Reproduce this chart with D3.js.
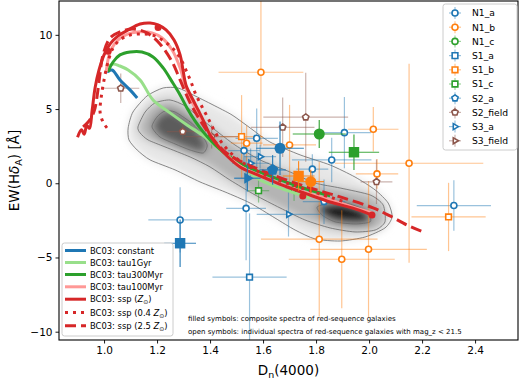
<!DOCTYPE html>
<html>
<head>
<meta charset="utf-8">
<script src="https://cdn.jsdelivr.net/npm/d3@7"></script>
<style>
  body { margin: 0; background: #fff; }
  svg { display: block; font-family: "DejaVu Sans", sans-serif; }
</style>
</head>
<body>
<svg id="chart" width="520" height="379"></svg>
<script>
// BC03 model tracks, [Dn(4000), EW(Hd_A)]
const bcConstant = [[1.011,7.5],[1.03,7.63],[1.06,6.96],[1.098,6.29],[1.125,5.75]];
const bcTau1Gyr = [[1.011,7.77],[1.034,8.04],[1.06,7.9],[1.091,7.63],[1.136,6.96],[1.185,5.61],[1.249,4.74],
  [1.313,3.93],[1.381,3.12],[1.438,2.24],[1.513,1.23],[1.589,0.22],[1.683,-0.45],[1.777,-0.99]];
const bcTau300Myr = [[1.015,7.5],[1.034,8.17],[1.06,8.65],[1.098,8.85],[1.143,8.85],[1.185,8.51],[1.223,7.77],
  [1.257,6.83],[1.287,5.95],[1.313,5.07],[1.343,4.2],[1.374,3.46],[1.419,2.58],[1.475,1.77],[1.551,1.03],
  [1.645,0.36],[1.74,-0.25],[1.853,-0.85]];
const bcTau100Myr = [[1.008,7.5],[1.023,8.85],[1.053,9.66],[1.091,10.06],[1.136,10.2],[1.181,10.13],[1.219,9.79],
  [1.257,8.98],[1.287,7.77],[1.309,6.42],[1.332,5.48],[1.362,4.4],[1.40,3.32],[1.445,2.24],[1.513,1.17],
  [1.589,0.49],[1.683,-0.18],[1.777,-0.72],[1.891,-1.33],[2.011,-2.0]];
const bcSsp = [[0.90,3.1],[0.915,3.6],[0.925,3.3],[0.935,3.9],[0.945,3.7],[0.955,4.9],[0.966,6.42],[0.981,7.63],
  [1.0,8.65],[1.023,9.39],[1.053,9.93],[1.091,10.33],[1.136,10.73],[1.174,10.8],[1.204,10.67],[1.234,10.33],
  [1.264,9.66],[1.287,8.65],[1.298,7.63],[1.309,6.62],[1.336,5.61],[1.355,4.94],[1.374,4.26],[1.40,3.25],
  [1.43,2.51],[1.468,1.77],[1.513,1.1],[1.57,0.63],[1.634,0.16],[1.702,-0.32],[1.777,-0.79],[1.853,-1.26],
  [1.936,-1.66],[2.011,-2.14]];
const bcSspLowZ = [[1.011,3.73],[0.996,4.13],[0.985,4.8],[0.989,5.75],[1.0,6.96],[1.015,8.17],[1.034,9.12],
  [1.06,9.66],[1.098,9.99],[1.143,10.06],[1.181,9.99],[1.219,9.66],[1.257,9.12],[1.287,8.44],[1.309,7.63],
  [1.328,6.83],[1.347,5.95],[1.37,5.14],[1.392,4.4],[1.415,3.59],[1.445,2.72],[1.494,1.77],[1.551,1.1],
  [1.626,0.42],[1.721,-0.18],[1.815,-0.72],[1.909,-1.26]];
const bcSspHighZ = [[0.921,3.8],[0.94,4.13],[0.955,4.53],[0.966,5.07],[0.977,6.29],[0.985,7.43],[0.996,8.65],
  [1.023,9.79],[1.06,10.2],[1.109,10.4],[1.162,10.13],[1.211,9.39],[1.257,8.17],[1.287,6.96],[1.325,5.41],
  [1.362,4.26],[1.408,3.05],[1.457,2.11],[1.513,1.5],[1.638,0.56],[1.766,-0.25],[1.891,-0.92],[2.015,-1.66],
  [2.079,-2.2],[2.143,-2.81],[2.204,-3.28]];
const sspAgeDots = [[1.015,8.9],[1.204,10.5],[1.75,-0.85],[2.011,-2.14]];

// SDSS density contours (outer, middle, two inner)
const densOuter = [[1.091,3.73],[1.109,4.8],[1.162,5.88],[1.223,6.42],[1.279,6.42],[1.336,5.95],[1.411,5.28],
  [1.483,4.6],[1.551,3.73],[1.626,2.78],[1.74,1.91],[1.853,1.23],[1.947,0.42],[2.023,-0.45],[2.072,-1.33],
  [2.087,-2.27],[2.06,-3.01],[1.985,-3.62],[1.891,-3.89],[1.796,-3.75],[1.721,-3.15],[1.645,-2.34],
  [1.551,-1.33],[1.457,-0.59],[1.362,0.09],[1.268,0.9],[1.174,1.57],[1.125,2.24],[1.094,2.92]];
const densMiddle = [[1.128,3.8],[1.155,4.8],[1.192,5.41],[1.249,5.61],[1.306,5.21],[1.362,4.4],[1.419,3.59],
  [1.494,2.58],[1.589,1.57],[1.702,0.76],[1.796,0.02],[1.891,-0.32],[2.004,-0.79],[2.053,-1.46],[2.06,-2.6],
  [2.023,-3.15],[1.947,-3.28],[1.853,-3.01],[1.758,-2.47],[1.664,-1.66],[1.57,-0.79],[1.475,0.22],[1.40,1.1],
  [1.325,1.77],[1.23,2.45],[1.166,2.92],[1.136,3.39]];
const densInnerBlue = [[1.181,3.8],[1.2,4.47],[1.23,4.87],[1.268,4.8],[1.325,4.13],[1.362,3.46],[1.389,2.58],
  [1.374,2.04],[1.325,2.24],[1.268,2.65],[1.211,3.12]];
const densInnerRed = [[1.804,-1.6],[1.853,-1.33],[1.909,-1.33],[1.966,-1.66],[2.0,-2.07],[2.004,-2.6],
  [1.947,-2.74],[1.872,-2.6],[1.823,-2.14]];

// samples: name, colour, marker
const sampleNames = ["N1_a","N1_b","N1_c","S1_a","S1_b","S1_c","S2_a","S2_field","S3_a","S3_field"];
const sampleColors = ["#1f77b4","#ff7f0e","#2ca02c","#1f77b4","#ff7f0e","#2ca02c","#1f77b4","#8c564b","#1f77b4","#8c564b"];
const sampleShapes = ["circle","circle","circle","square","square","square","pentagon","pentagon","triangle","triangle"];

// individual spectra: [sample, Dn, EW, xerr, yerr]
const individual = [
  ["N1_a",1.287,-2.47,0.12,2.2],["N1_a",1.536,-1.69,0.075,3.5],["N1_a",1.576,3.03,0.08,2.0],
  ["N1_a",1.528,2.2,0.06,1.2],["N1_a",1.907,3.41,0.1,2.4],["N1_a",1.859,1.57,0.15,1.5],
  ["N1_a",1.786,0.95,0.06,1.0],["N1_a",2.32,-1.5,0.14,1.7],
  ["N1_b",1.592,7.48,0.16,5.0],["N1_b",2.016,3.64,0.095,1.5],["N1_b",2.151,1.35,0.28,6.7],
  ["N1_b",2.03,0.63,0.08,1.0],["N1_b",1.70,2.58,0.1,2.7],["N1_b",1.538,2.7,0.06,1.2],
  ["N1_b",1.812,-3.77,0.22,5.2],["N1_b",1.897,-5.12,0.2,3.3],["N1_b",1.998,-4.45,0.22,4.6],
  ["N1_c",1.717,-0.4,0.05,0.8],
  ["S1_a",1.549,-6.33,0.14,4.3],
  ["S1_b",1.519,3.14,0.08,2.8],["S1_b",2.30,-2.27,0.14,2.3],
  ["S1_c",1.583,-0.5,0.04,0.8],
  ["S2_a",1.83,-1.24,0.08,1.5],
  ["S2_field",1.063,6.4,0.07,1.0],["S2_field",1.297,3.48,0.06,0.5],["S2_field",1.406,3.14,0.1,0.8],
  ["S2_field",1.761,4.45,0.16,3.0],["S2_field",1.674,3.77,0.12,2.0],["S2_field",2.028,0.1,0.06,1.5],
  ["S3_a",1.553,1.35,0.07,1.0],["S3_a",1.589,1.79,0.06,0.8],["S3_a",1.696,-2.09,0.12,1.5]
];
// composite spectra
const composite = [
  ["N1_a",1.664,2.36,0.09,1.8],["S2_a",1.636,0.9,0.05,1.0],["S1_a",1.287,-4.04,0.06,1.6],
  ["S1_b",1.734,0.49,0.06,1.0],["N1_b",1.78,0.11,0.05,0.8],["N1_c",1.812,3.32,0.1,0.95],
  ["S1_c",1.943,2.09,0.095,1.2],["S3_a",1.541,0.34,0.05,0.9]
];

const xTicks = [1.0,1.2,1.4,1.6,1.8,2.0,2.2,2.4];
const yTicks = [-10,-5,0,5,10];

const pLeft = 59, pRight = 518, pTop = 1, pBottom = 340;
const svg = d3.select("#chart");
const x = d3.scaleLinear().domain([0.830, 2.562]).range([pLeft, pRight]);
const y = d3.scaleLinear().domain([-10.56, 12.28]).range([pBottom, pTop]);
const colorOf = n => sampleColors[sampleNames.indexOf(n)];
const shapeOf = n => sampleShapes[sampleNames.indexOf(n)];

const defs = svg.append("defs");
defs.append("clipPath").attr("id", "plotclip").append("rect")
  .attr("x", pLeft).attr("y", pTop).attr("width", pRight - pLeft).attr("height", pBottom - pTop);
defs.append("filter").attr("id", "blur").attr("x", "-20%").attr("y", "-20%").attr("width", "140%").attr("height", "140%")
  .append("feGaussianBlur").attr("stdDeviation", 4);

const plot = svg.append("g").attr("clip-path", "url(#plotclip)");

// density
const closed = d3.line().x(d => x(d[0])).y(d => y(d[1])).curve(d3.curveCardinalClosed.tension(0.3));
const dens = plot.append("g");
const densLayers = [[densOuter, "#e6e6e6"], [densMiddle, "#b4b4b4"], [densInnerBlue, "#5c5c5c"], [densInnerRed, "#1e1e1e"]];
const blurG = dens.append("g").attr("filter", "url(#blur)");
densLayers.forEach(([pts, c]) => blurG.append("path").attr("d", closed(pts)).attr("fill", c));
densLayers.forEach(([pts]) => dens.append("path").attr("d", closed(pts))
  .attr("fill", "none").attr("stroke", "#6a6a6a").attr("stroke-width", 0.8));

// markers
function markerPath(shape, r) {
  if (shape === "circle") return d3.symbol(d3.symbolCircle, Math.PI * r * r)();
  if (shape === "square") { const s = r * 0.95; return `M${-s},${-s}H${s}V${s}H${-s}Z`; }
  if (shape === "pentagon") {
    const R = r * 1.1;
    return "M" + d3.range(5).map(k => {
      const a = -Math.PI / 2 + k * 2 * Math.PI / 5;
      return [R * Math.cos(a), R * Math.sin(a)].join(",");
    }).join("L") + "Z";
  }
  const R = r * 1.15;
  return `M${R},0L${-R / 2},${-R * 0.866}L${-R / 2},${R * 0.866}Z`;
}

function drawPoints(g, rows, r, filled, barOpacity) {
  rows.forEach(([n, dn, ew, xe, ye]) => {
    const c = colorOf(n);
    g.append("line").attr("x1", x(dn - xe)).attr("x2", x(dn + xe)).attr("y1", y(ew)).attr("y2", y(ew))
      .attr("stroke", c).attr("stroke-opacity", barOpacity).attr("stroke-width", 1.2);
    g.append("line").attr("x1", x(dn)).attr("x2", x(dn)).attr("y1", y(ew - ye)).attr("y2", y(ew + ye))
      .attr("stroke", c).attr("stroke-opacity", barOpacity).attr("stroke-width", 1.2);
  });
  rows.forEach(([n, dn, ew]) => {
    const c = colorOf(n);
    g.append("path").attr("d", markerPath(shapeOf(n), r))
      .attr("transform", `translate(${x(dn)},${y(ew)})`)
      .attr("fill", filled ? c : "#fff").attr("stroke", c).attr("stroke-width", filled ? 0 : 1.6);
  });
}
drawPoints(plot.append("g"), individual, 3, false, 0.45);

// model tracks
const line = d3.line().x(d => x(d[0])).y(d => y(d[1])).curve(d3.curveCatmullRom);
const tracks = [
  [bcConstant, "#1f77b4", null, "BC03: constant"],
  [bcTau1Gyr, "#98df8a", null, "BC03: tau1Gyr"],
  [bcTau300Myr, "#2ca02c", null, "BC03: tau300Myr"],
  [bcTau100Myr, "#ff9896", null, "BC03: tau100Myr"],
  [bcSsp, "#d62728", null, "ssp"],
  [bcSspLowZ, "#d62728", "3,5", "ssp04"],
  [bcSspHighZ, "#d62728", "11,5", "ssp25"]
];
const trackG = plot.append("g");
tracks.forEach(([pts, c, dash]) => {
  trackG.append("path").attr("d", line(pts)).attr("fill", "none").attr("stroke", c)
    .attr("stroke-width", 3).attr("stroke-dasharray", dash).attr("stroke-linejoin", "round");
});
trackG.selectAll("circle.age").data(sspAgeDots).join("circle").attr("class", "age")
  .attr("cx", d => x(d[0])).attr("cy", d => y(d[1])).attr("r", 3.5).attr("fill", "#d62728");

drawPoints(plot.append("g"), composite, 5.5, true, 0.9);

// axes
const xAxis = svg.append("g").attr("transform", `translate(0,${pBottom})`)
  .call(d3.axisBottom(x).tickValues(xTicks).tickFormat(d3.format(".1f")).tickSizeOuter(0).tickSize(3.5));
const yAxis = svg.append("g").attr("transform", `translate(${pLeft},0)`)
  .call(d3.axisLeft(y).tickValues(yTicks).tickSizeOuter(0).tickSize(3.5));
[xAxis, yAxis].forEach(a => {
  a.select(".domain").remove();
  a.selectAll("text").attr("font-size", 10.5).attr("fill", "#000").attr("font-family", "DejaVu Sans");
  a.selectAll("line").attr("stroke", "#000").attr("stroke-width", 0.9);
});
svg.append("rect").attr("x", pLeft).attr("y", pTop).attr("width", pRight - pLeft).attr("height", pBottom - pTop)
  .attr("fill", "none").attr("stroke", "#000").attr("stroke-width", 1.1);

// axis labels
const xl = svg.append("text").attr("x", (pLeft + pRight) / 2).attr("y", 375).attr("text-anchor", "middle")
  .attr("font-size", 13.5);
xl.append("tspan").text("D");
xl.append("tspan").attr("font-size", 9.5).attr("dy", 3).text("n");
xl.append("tspan").attr("dy", -3).text("(4000)");
const yl = svg.append("text").attr("transform", `translate(19,${(pTop + pBottom) / 2}) rotate(-90)`)
  .attr("text-anchor", "middle").attr("font-size", 13.5);
yl.append("tspan").text("EW(H");
yl.append("tspan").attr("font-style", "italic").text("δ");
yl.append("tspan").attr("font-size", 9.5).attr("dy", 3).text("A");
yl.append("tspan").attr("dy", -3).text(") [Å]");

// notes
svg.append("text").attr("x", 188).attr("y", 321).attr("font-size", 7)
  .text("filled symbols: composite spectra of red-sequence galaxies");
svg.append("text").attr("x", 188).attr("y", 333.5).attr("font-size", 7)
  .text("open symbols: individual spectra of red-sequence galaxies with mag_z < 21.5");

// sample legend
const leg1 = svg.append("g");
leg1.append("rect").attr("x", 443).attr("y", 4).attr("width", 74).attr("height", 146).attr("rx", 2.5)
  .attr("fill", "#fff").attr("fill-opacity", 0.85).attr("stroke", "#cccccc").attr("stroke-width", 1);
sampleNames.forEach((n, i) => {
  const cy = 13 + i * 14.2;
  const c = sampleColors[i];
  leg1.append("line").attr("x1", 449).attr("x2", 461).attr("y1", cy).attr("y2", cy)
    .attr("stroke", c).attr("stroke-opacity", 0.45).attr("stroke-width", 1.2);
  leg1.append("line").attr("x1", 455).attr("x2", 455).attr("y1", cy - 6).attr("y2", cy + 6)
    .attr("stroke", c).attr("stroke-opacity", 0.45).attr("stroke-width", 1.2);
  leg1.append("path").attr("d", markerPath(sampleShapes[i], 3)).attr("transform", `translate(455,${cy})`)
    .attr("fill", "#fff").attr("stroke", c).attr("stroke-width", 1.6);
  leg1.append("text").attr("x", 472).attr("y", cy + 3.4).attr("font-size", 9.2).text(n);
});

// model legend
const leg2 = svg.append("g");
leg2.append("rect").attr("x", 62).attr("y", 243).attr("width", 111).attr("height", 93).attr("rx", 2.5)
  .attr("fill", "#fff").attr("fill-opacity", 0.85).attr("stroke", "#cccccc").attr("stroke-width", 1);
const leg2Rows = [250.5, 262.5, 274.5, 286.8, 299.2, 312.5, 325.8];
tracks.forEach(([, c, dash, label], i) => {
  const cy = leg2Rows[i];
  leg2.append("line").attr("x1", 65).attr("x2", 86).attr("y1", cy).attr("y2", cy)
    .attr("stroke", c).attr("stroke-width", 3).attr("stroke-dasharray", dash);
  const t = leg2.append("text").attr("x", 90).attr("y", cy + 3).attr("font-size", 8.4);
  if (i < 4) { t.text(label); return; }
  const pre = i === 4 ? "BC03: ssp (" : i === 5 ? "BC03: ssp (0.4 " : "BC03: ssp (2.5 ";
  t.append("tspan").text(pre);
  t.append("tspan").attr("font-style", "italic").text("Z");
  t.append("tspan").attr("font-size", 6).attr("dy", 2).text("⊙");
  t.append("tspan").attr("dy", -2).text(")");
});
</script>
</body>
</html>
